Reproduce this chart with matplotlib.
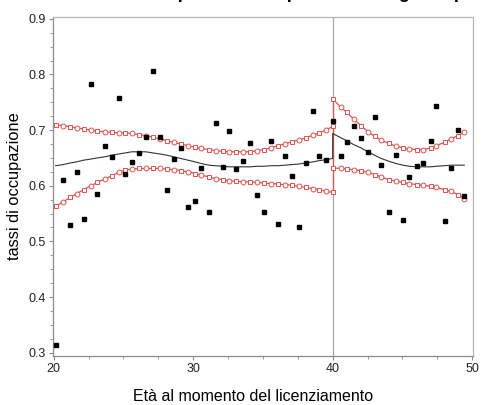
import matplotlib
matplotlib.use('Agg')
import matplotlib.pyplot as plt

plt.rcParams['font.family'] = ['Liberation Sans', 'DejaVu Sans']

# osservazioni: eta' al licenziamento e tasso di occupazione
eta = [20.14, 20.67, 21.20, 21.65, 22.15, 22.67, 23.13, 23.65, 24.17, 24.65,
       25.13, 25.60, 26.11, 26.61, 27.11, 27.64, 28.09, 28.60, 29.11, 29.62,
       30.12, 30.58, 31.12, 31.60, 32.12, 32.58, 33.08, 33.60, 34.08, 34.56,
       35.06, 35.56, 36.09, 36.56, 37.06, 37.56, 38.06, 38.60, 39.02, 39.55,
       40.03, 40.60, 41.00, 41.50, 42.03, 42.53, 43.00, 43.48, 44.03, 44.53,
       45.04, 45.49, 46.04, 46.49, 47.04, 47.42, 48.02, 48.47, 48.99, 49.44]
tassi = [0.313, 0.611, 0.529, 0.625, 0.540, 0.783, 0.586, 0.672, 0.652, 0.757,
         0.622, 0.642, 0.658, 0.688, 0.807, 0.688, 0.593, 0.648, 0.668, 0.562,
         0.573, 0.632, 0.553, 0.713, 0.633, 0.699, 0.630, 0.645, 0.676, 0.583,
         0.553, 0.680, 0.532, 0.654, 0.617, 0.525, 0.640, 0.735, 0.653, 0.646,
         0.716, 0.653, 0.679, 0.708, 0.686, 0.660, 0.723, 0.638, 0.553, 0.655,
         0.539, 0.615, 0.635, 0.640, 0.681, 0.744, 0.537, 0.631, 0.701, 0.581]

# fit a sinistra della soglia (eta' < 40)
x_sx = [20.14, 20.67, 21.20, 21.65, 22.15, 22.67, 23.13, 23.65, 24.17, 24.65,
        25.13, 25.60, 26.11, 26.61, 27.11, 27.64, 28.09, 28.60, 29.11, 29.62,
        30.12, 30.58, 31.12, 31.60, 32.12, 32.58, 33.08, 33.60, 34.08, 34.56,
        35.06, 35.56, 36.09, 36.56, 37.06, 37.56, 38.06, 38.60, 39.02, 39.55, 40.0]
fit_sx = [0.636, 0.638, 0.641, 0.643, 0.646, 0.648, 0.650, 0.652, 0.655, 0.657,
          0.659, 0.661, 0.661, 0.661, 0.659, 0.657, 0.655, 0.652, 0.649, 0.646,
          0.643, 0.640, 0.637, 0.636, 0.635, 0.634, 0.634, 0.634, 0.634, 0.635,
          0.635, 0.636, 0.636, 0.637, 0.638, 0.639, 0.641, 0.643, 0.645, 0.647, 0.649]
sup_sx = [0.710, 0.708, 0.706, 0.704, 0.702, 0.700, 0.698, 0.697, 0.696, 0.695,
          0.695, 0.694, 0.692, 0.690, 0.687, 0.684, 0.681, 0.678, 0.675, 0.672,
          0.669, 0.667, 0.665, 0.663, 0.662, 0.661, 0.661, 0.661, 0.661, 0.663,
          0.665, 0.668, 0.672, 0.675, 0.679, 0.682, 0.686, 0.691, 0.695, 0.700, 0.707]
inf_sx = [0.563, 0.571, 0.579, 0.586, 0.593, 0.600, 0.606, 0.612, 0.618, 0.624,
          0.628, 0.630, 0.631, 0.631, 0.631, 0.631, 0.630, 0.629, 0.627, 0.625,
          0.622, 0.619, 0.616, 0.613, 0.611, 0.609, 0.608, 0.607, 0.607, 0.606,
          0.605, 0.604, 0.603, 0.602, 0.601, 0.599, 0.597, 0.595, 0.593, 0.590, 0.588]

# fit a destra della soglia (eta' >= 40)
x_dx = [40.0, 40.60, 41.00, 41.50, 42.03, 42.53, 43.00, 43.48, 44.03, 44.53,
        45.04, 45.49, 46.04, 46.49, 47.04, 47.42, 48.02, 48.47, 48.99, 49.44]
fit_dx = [0.694, 0.686, 0.681, 0.674, 0.668, 0.661, 0.655, 0.649, 0.644, 0.640,
          0.637, 0.635, 0.634, 0.634, 0.634, 0.635, 0.636, 0.637, 0.637, 0.637]
sup_dx = [0.756, 0.741, 0.732, 0.720, 0.708, 0.697, 0.689, 0.682, 0.676, 0.671,
          0.668, 0.666, 0.665, 0.665, 0.668, 0.672, 0.678, 0.684, 0.690, 0.696]
inf_dx = [0.632, 0.631, 0.630, 0.629, 0.627, 0.624, 0.620, 0.616, 0.611, 0.608,
          0.606, 0.604, 0.602, 0.601, 0.599, 0.597, 0.593, 0.590, 0.584, 0.577]

soglia = 40
rosso = '#d9534f'
grigio = '#8c8c8c'

fig = plt.figure(figsize=(4.82, 4.05), dpi=100)
ax = fig.add_axes([0.110, 0.121, 0.871, 0.838])

ax.axvline(soglia, color='#a8a8a8', lw=0.9, zorder=1)

# intervalli di confidenza (rossi con marker vuoti)
for xs, ys in [(x_sx, sup_sx), (x_sx, inf_sx), (x_dx, sup_dx), (x_dx, inf_dx)]:
    ax.plot(xs, ys, color=rosso, lw=0.9, zorder=2)
    ax.plot(xs[::2], ys[::2], ls='none', marker='s', ms=3.3, mfc='white',
            mec=rosso, mew=0.7, zorder=3)
    ax.plot(xs[1::2], ys[1::2], ls='none', marker='o', ms=3.5, mfc='white',
            mec=rosso, mew=0.7, zorder=3)
ax.plot([soglia, soglia], [inf_sx[-1], sup_dx[0]], color=rosso, lw=0.9, zorder=2)

# valori previsti
ax.plot(x_sx + x_dx, fit_sx + fit_dx, color='#333333', lw=0.8, zorder=4)

# osservazioni
ax.plot(eta, tassi, ls='none', marker='s', ms=2.6, color='black', zorder=5)

ax.set_xlim(19.95, 50.05)
ax.set_ylim(0.294, 0.904)
ax.set_xticks([20, 30, 40, 50])
ax.set_xticks([22.5, 25, 27.5, 32.5, 35, 37.5, 42.5, 45, 47.5], minor=True)
ax.set_yticks([0.3, 0.4, 0.5, 0.6, 0.7, 0.8, 0.9])
ax.set_yticks([0.325, 0.35, 0.375, 0.425, 0.45, 0.475, 0.525, 0.55, 0.575,
               0.625, 0.65, 0.675, 0.725, 0.75, 0.775, 0.825, 0.85, 0.875], minor=True)
ax.set_yticklabels(['0.3', '0.4', '0.5', '0.6', '0.7', '0.8', '0.9'])
ax.tick_params(which='both', direction='out', color=grigio, labelsize=9,
               labelcolor='#222222', pad=2)
ax.tick_params(which='major', length=3)
ax.tick_params(which='minor', length=2)

for lato in ['left', 'bottom']:
    ax.spines[lato].set_color(grigio)
    ax.spines[lato].set_linewidth(0.9)
for lato in ['top', 'right']:
    ax.spines[lato].set_color('#b5b5b5')
    ax.spines[lato].set_linewidth(0.9)

ax.set_xlabel('Età al momento del licenziamento', fontsize=11.5, va='center')
ax.xaxis.set_label_coords(0.476, -0.118)
ax.set_ylabel('tassi di occupazione', fontsize=11.8, va='center')
ax.yaxis.set_label_coords(-0.092, 0.5)

# titolo tagliato in alto come nell'originale
fig.text(0.55, 1.004, 'Tassi di occupazione con polinomio di grado p',
         ha='center', va='baseline', fontsize=13, fontweight='bold')

plt.savefig('out.png', dpi=100)
